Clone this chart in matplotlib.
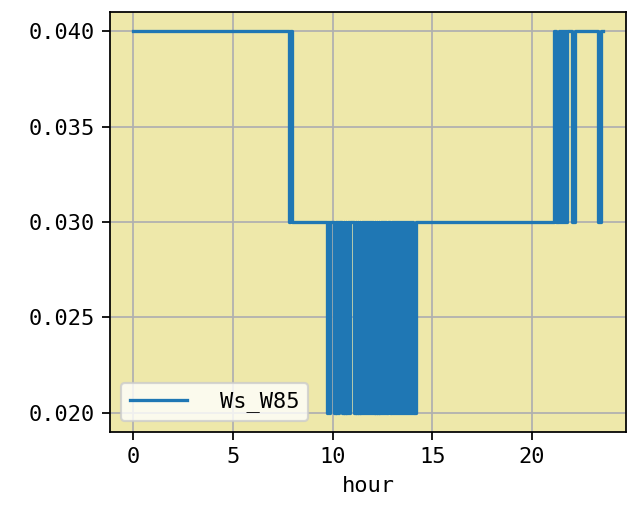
import matplotlib.pyplot as plt

plt.rcParams['font.family'] = ['DejaVu Sans Mono']

# Ws_W85 over the day (hour), step signal
# short drops 0.03 -> 0.02 (start hour, end hour)
low_dips = [
    (9.73, 9.79), (9.81, 9.86),
    (10.09, 10.15), (10.18, 10.24), (10.27, 10.33),
    (10.49, 10.56), (10.59, 10.66), (10.69, 10.77), (10.80, 10.89),
    (11.08, 11.15), (11.18, 11.26), (11.29, 11.36), (11.39, 11.47),
    (11.50, 11.58), (11.61, 11.68), (11.71, 11.79), (11.82, 11.90),
    (11.93, 12.00), (12.03, 12.11), (12.14, 12.22), (12.25, 12.32),
    (12.35, 12.43), (12.46, 12.54), (12.57, 12.64), (12.67, 12.76),
    (12.90, 12.98), (13.01, 13.08), (13.11, 13.18), (13.21, 13.28),
    (13.31, 13.38), (13.41, 13.48), (13.51, 13.58), (13.61, 13.68),
    (13.71, 13.78), (13.81, 13.88), (13.91, 13.98), (14.01, 14.17),
]
# short drops 0.04 -> 0.03 in the evening
high_dips = [
    (21.40, 21.45), (21.50, 21.55), (21.60, 21.65), (21.70, 21.75),
    (22.02, 22.15), (23.30, 23.48),
]

hours = [0.0, 7.82, 7.88, 7.96]
ws = [0.04, 0.03, 0.04, 0.03]
for a, b in low_dips:
    hours += [a, b]
    ws += [0.02, 0.03]
hours += [21.13, 21.20, 21.35]
ws += [0.04, 0.03, 0.04]
for a, b in high_dips:
    hours += [a, b]
    ws += [0.03, 0.04]
hours += [23.55]
ws += [0.04]

fig = plt.figure(figsize=(631 / 158, 519 / 158), dpi=158)
ax = fig.add_axes([110 / 631, 1 - 432 / 519, 516 / 631, 420 / 519])
ax.set_facecolor('palegoldenrod')
ax.plot(hours, ws, drawstyle='steps-post', color='#1f77b4', label='Ws_W85')
ax.grid(True)
ax.set_xticks([0, 5, 10, 15, 20])
ax.set_yticks([0.020, 0.025, 0.030, 0.035, 0.040])
ax.set_yticklabels(['0.020', '0.025', '0.030', '0.035', '0.040'])
ax.set_xlabel('hour')
ax.legend(loc='lower left', handlelength=2.6, handletextpad=1.5)

fig.savefig('out.png', dpi=158)
